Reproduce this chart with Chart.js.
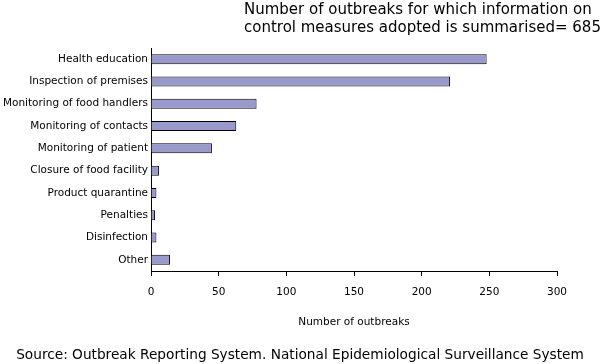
<!DOCTYPE html>
<html>
<head>
<meta charset="utf-8">
<script src="https://cdn.jsdelivr.net/npm/chart.js@4"></script>
<style>
  body { margin: 0; background: #fff; }
  #wrap { width: 600px; height: 364px; position: relative; }
</style>
</head>
<body>
<div id="wrap"><canvas id="Chart-measures"></canvas></div>
<script>
var measures = [
  "Health education",
  "Inspection of premises",
  "Monitoring of food handlers",
  "Monitoring of contacts",
  "Monitoring of patient",
  "Closure of food facility",
  "Product quarantine",
  "Penalties",
  "Disinfection",
  "Other",
];
var outbreaks = [248, 221, 78, 63, 45, 6, 4, 3, 4, 14];
var xTicks = [0, 50, 100, 150, 200, 250, 300];
var headerLines = [
  "Number of outbreaks for which information on",
  "control measures adopted is summarised= 685",
];
var sourceNote = "Source: Outbreak Reporting System. National Epidemiological Surveillance System";

var FONT = "'DejaVu Sans', Verdana, sans-serif";

//Texto do cabeçalho e da fonte
var textPlugin = {
  id: "texts",
  afterDraw(chart) {
    var c = chart.ctx;
    c.save();
    c.fillStyle = "#000";
    c.textBaseline = "middle";
    c.font = "15px " + FONT;
    c.textAlign = "left";
    c.fillText(headerLines[0], 244, 10);
    c.fillText(headerLines[1], 244, 28);
    c.font = "13.7px " + FONT;
    c.textAlign = "center";
    c.fillText(sourceNote, 300, 355);
    c.restore();
  },
};

var ctx = document.getElementById("Chart-measures").getContext("2d");
var myChart = new Chart(ctx, {
  type: "bar",
  data: {
    labels: measures,
    datasets: [
      {
        label: "Number of outbreaks",
        data: outbreaks,
        backgroundColor: "#9999cc",
        borderColor: "#000",
        borderWidth: 1,
        barPercentage: 0.45,
        categoryPercentage: 1,
      },
    ],
  },
  plugins: [textPlugin],
  options: {
    indexAxis: "y",
    responsive: true,
    maintainAspectRatio: false,
    animation: false,
    layout: {
      padding: { top: 48, right: 43, bottom: 34, left: 0 },
    },
    plugins: {
      legend: { display: false },
      tooltip: { enabled: false },
    },
    scales: {
      x: {
        min: 0,
        max: 300,
        afterBuildTicks(axis) {
          axis.ticks = xTicks.map(function (v) { return { value: v }; });
        },
        afterFit(axis) {
          axis.height = 59;
        },
        grid: {
          drawOnChartArea: false,
          drawTicks: true,
          tickLength: 5,
          color: "#000",
        },
        border: { display: true, color: "#000", width: 1 },
        ticks: {
          color: "#000",
          font: { family: FONT, size: 10.5 },
          padding: 10,
          maxRotation: 0,
        },
        title: {
          display: true,
          text: "Number of outbreaks",
          color: "#000",
          font: { family: FONT, size: 10.5 },
          padding: { top: 12, bottom: 1 },
        },
      },
      y: {
        afterFit(axis) {
          axis.width = 151;
        },
        grid: { display: false },
        border: { display: true, color: "#000", width: 1 },
        ticks: {
          color: "#000",
          font: { family: FONT, size: 10.5 },
          padding: -5,
        },
      },
    },
  },
});
</script>
</body>
</html>
